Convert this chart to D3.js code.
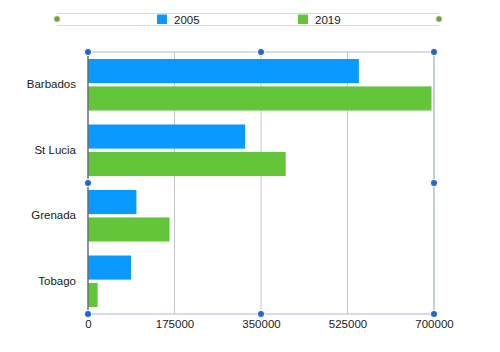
<!DOCTYPE html>
<html><head><meta charset="utf-8">
<script src="https://cdn.jsdelivr.net/npm/d3@7"></script>
<style>body{margin:0;background:#fff}svg{display:block}</style>
</head><body>
<script>
const categories = ["Barbados", "St Lucia", "Grenada", "Tobago"];
const seriesNames = ["2005", "2019"];
const values2005 = [548000, 318000, 98000, 87000];
const values2019 = [695000, 400000, 165000, 19500];
const xTicks = [0, 175000, 350000, 525000, 700000];
const colors = ["#0a99ff", "#63c63a"];

const W = 500, H = 352;
const m = {left: 88, right: 66, top: 52, bottom: 38};
const svg = d3.select("body").append("svg").attr("width", W).attr("height", H);
const font = "Helvetica, Arial, 'Liberation Sans', sans-serif";

const x = d3.scaleLinear().domain([0, 700000]).range([m.left, W - m.right]);
const y = d3.scaleBand().domain(categories).range([m.top, H - m.bottom]).paddingInner(0).paddingOuter(0);
const inner = d3.scaleBand().domain(seriesNames).range([7, y.bandwidth() - 7]).paddingInner(0.12);

// gridlines
svg.append("g").selectAll("line").data(xTicks.slice(1, -1)).join("line")
  .attr("x1", d => x(d)).attr("x2", d => x(d))
  .attr("y1", m.top).attr("y2", H - m.bottom)
  .attr("stroke", "#c4c6cc").attr("stroke-width", 1);

// frame lines
const frameColor = "#a9b8d6";
svg.append("line").attr("x1", x(0)).attr("x2", x(700000)).attr("y1", m.top).attr("y2", m.top).attr("stroke", frameColor);
svg.append("line").attr("x1", x(0)).attr("x2", x(700000)).attr("y1", H - m.bottom).attr("y2", H - m.bottom).attr("stroke", frameColor);
svg.append("line").attr("x1", x(700000)).attr("x2", x(700000)).attr("y1", m.top).attr("y2", H - m.bottom).attr("stroke", "#8a9cc4");

// bars
const data = categories.map((c, i) => ({c, v: [values2005[i], values2019[i]]}));
const g = svg.append("g");
data.forEach(d => {
  d.v.forEach((v, j) => {
    g.append("rect")
      .attr("x", x(0)).attr("y", y(d.c) + inner(seriesNames[j]))
      .attr("width", x(v) - x(0)).attr("height", inner.bandwidth())
      .attr("fill", colors[j]);
  });
});

// left axis line
svg.append("line").attr("x1", x(0)).attr("x2", x(0)).attr("y1", m.top).attr("y2", H - m.bottom).attr("stroke", "#6b6f78").attr("stroke-width", 1.5);

// category labels
const yAxis = d3.axisLeft(y).tickSize(0).tickPadding(12);
const ya = svg.append("g").attr("transform", `translate(${x(0)},0)`).call(yAxis);
ya.select(".domain").remove();
ya.selectAll("text").attr("font-family", font).attr("font-size", 11.5).attr("fill", "#1a1a1a");

// x ticks labels
const xAxis = d3.axisBottom(x).tickValues(xTicks).tickSize(0).tickPadding(6).tickFormat(d3.format("d"));
const xa = svg.append("g").attr("transform", `translate(0,${H - m.bottom})`).call(xAxis);
xa.select(".domain").remove();
xa.selectAll("text").attr("font-family", font).attr("font-size", 11.5).attr("fill", "#1a1a1a");

// selection handles
const hx = [x(0), (x(0) + x(700000)) / 2, x(700000)];
const hy = [m.top, (m.top + H - m.bottom) / 2, H - m.bottom];
const handles = [];
hx.forEach((a, i) => hy.forEach((b, j) => { if (!(i === 1 && j === 1)) handles.push([a, b]); }));
svg.append("g").selectAll("circle").data(handles).join("circle")
  .attr("cx", d => d[0]).attr("cy", d => d[1]).attr("r", 3.6)
  .attr("fill", "#1f68d2").attr("stroke", "#fff").attr("stroke-width", 1);

// legend
const lg = svg.append("g");
lg.append("line").attr("x1", 57).attr("x2", 439).attr("y1", 13.5).attr("y2", 13.5).attr("stroke", "#d6d8dc");
lg.append("line").attr("x1", 57).attr("x2", 439).attr("y1", 25.5).attr("y2", 25.5).attr("stroke", "#d6d8dc");
[57, 439].forEach(cx => lg.append("circle").attr("cx", cx).attr("cy", 19).attr("r", 3.3).attr("fill", "#6fa33e").attr("stroke", "#fff").attr("stroke-width", 0.8));
const legX = [157, 298];
seriesNames.forEach((s, i) => {
  lg.append("rect").attr("x", legX[i]).attr("y", 14.5).attr("width", 10).attr("height", 9.5).attr("fill", colors[i]);
  lg.append("text").attr("x", legX[i] + 17).attr("y", 23.5).attr("font-family", font).attr("font-size", 11.5).attr("fill", "#1a1a1a").text(s);
});
</script>
</body></html>
